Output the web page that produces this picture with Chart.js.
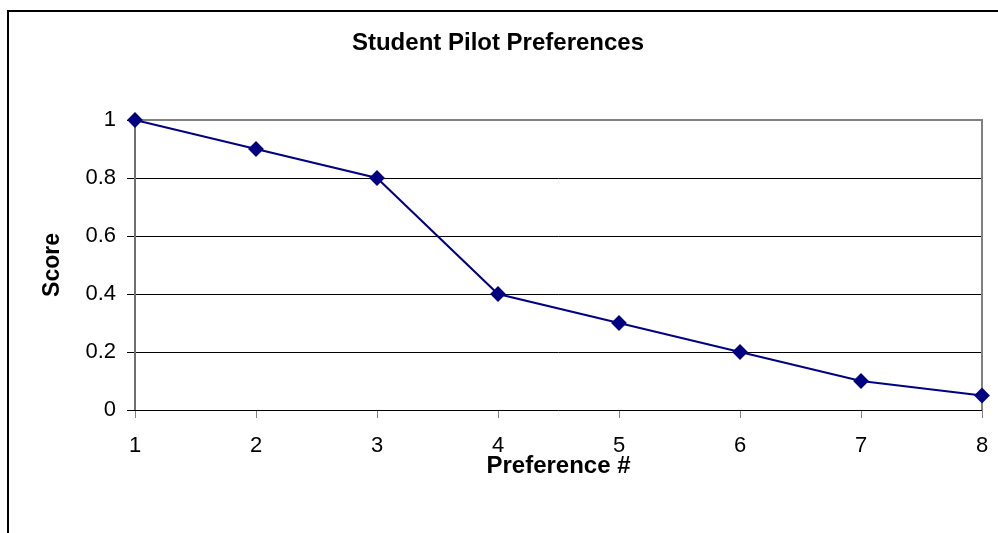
<!DOCTYPE html>
<html>
<head>
<meta charset="utf-8">
<script src="https://cdn.jsdelivr.net/npm/chart.js@4/dist/chart.umd.min.js"></script>
<style>
  html, body { margin: 0; padding: 0; background: #fff; }
  #wrap { width: 998px; height: 533px; position: relative; }
</style>
</head>
<body>
<div id="wrap"><canvas id="chart" width="998" height="533"></canvas></div>
<script>
// data
const preferences = [1, 2, 3, 4, 5, 6, 7, 8];
const scores = [1, 0.9, 0.8, 0.4, 0.3, 0.2, 0.1, 0.05];
const scoreTicks = [0, 0.2, 0.4, 0.6, 0.8, 1];

const FONT = 'Liberation Sans, Arial, sans-serif';

// outer frame + plot area border, Excel style
const framePlugin = {
  id: 'frame',
  beforeDraw(chart) {
    const ctx = chart.ctx;
    ctx.save();
    ctx.strokeStyle = '#000';
    ctx.lineWidth = 2;
    ctx.beginPath();
    ctx.moveTo(8, 533);
    ctx.lineTo(8, 11);
    ctx.lineTo(998, 11);
    ctx.stroke();
    ctx.restore();
  },
  beforeDatasetsDraw(chart) {
    const a = chart.chartArea;
    const ctx = chart.ctx;
    ctx.save();
    ctx.strokeStyle = '#808080';
    ctx.lineWidth = 2;
    ctx.beginPath();
    ctx.moveTo(a.left, a.top);
    ctx.lineTo(a.right, a.top);
    ctx.lineTo(a.right, a.bottom);
    ctx.stroke();
    ctx.strokeStyle = '#000';
    ctx.lineWidth = 1;
    ctx.beginPath();
    ctx.moveTo(a.left, a.bottom + 0.5);
    ctx.lineTo(a.right, a.bottom + 0.5);
    ctx.stroke();
    ctx.strokeStyle = '#707070';
    ctx.lineWidth = 2;
    ctx.beginPath();
    ctx.moveTo(a.left, a.top);
    ctx.lineTo(a.left, a.bottom);
    ctx.stroke();
    ctx.restore();
  }
};

new Chart(document.getElementById('chart'), {
  type: 'line',
  data: {
    datasets: [{
      label: 'Score',
      data: preferences.map((p, i) => ({ x: p, y: scores[i] })),
      borderColor: '#000080',
      backgroundColor: '#000080',
      borderWidth: 2,
      pointStyle: 'rectRot',
      pointRadius: 6.5,
      pointHoverRadius: 6.5,
      tension: 0,
      clip: false
    }]
  },
  options: {
    responsive: false,
    animation: false,
    layout: { padding: { top: 0, right: 16, bottom: 0, left: 14 } },
    plugins: {
      legend: { display: false },
      tooltip: { enabled: false },
      title: {
        display: true,
        text: 'Student Pilot Preferences',
        color: '#000',
        font: { family: FONT, size: 24, weight: 'bold' },
        padding: { top: 28.6, bottom: 62.6 }
      }
    },
    scales: {
      x: {
        type: 'linear',
        min: 1,
        max: 8,
        afterBuildTicks(scale) {
          scale.ticks = preferences.map(v => ({ value: v }));
        },
        afterFit(scale) {
          scale.height = 123;
          scale.paddingRight = 0;
          scale.paddingLeft = 0;
        },
        grid: {
          drawOnChartArea: false,
          drawTicks: true,
          tickLength: 8,
          tickColor: '#808080',
          tickWidth: 1
        },
        border: { display: false },
        ticks: {
          color: '#000',
          font: { family: FONT, size: 22 },
          padding: 14.8,
          maxRotation: 0
        },
        title: {
          display: true,
          text: 'Preference #',
          color: '#000',
          font: { family: FONT, size: 24, weight: 'bold' },
          padding: { top: 0, bottom: 52.6 }
        }
      },
      y: {
        min: 0,
        max: 1,
        afterBuildTicks(scale) {
          scale.ticks = scoreTicks.map(v => ({ value: v }));
        },
        afterFit(scale) { scale.width = 121; },
        grid: {
          color: ctx => (ctx.tick && (ctx.tick.value === 0 || ctx.tick.value === 1)) ? 'rgba(0,0,0,0)' : '#000',
          tickColor: '#000',
          lineWidth: 1,
          drawTicks: true,
          tickLength: 8
        },
        border: { display: false },
        ticks: {
          color: '#000',
          font: { family: FONT, size: 22 },
          padding: 11,
          callback: v => String(v)
        },
        title: {
          display: true,
          text: 'Score',
          color: '#000',
          font: { family: FONT, size: 23, weight: 'bold' },
          padding: { top: 25, bottom: 0 }
        }
      }
    }
  },
  plugins: [framePlugin]
});
</script>
</body>
</html>
